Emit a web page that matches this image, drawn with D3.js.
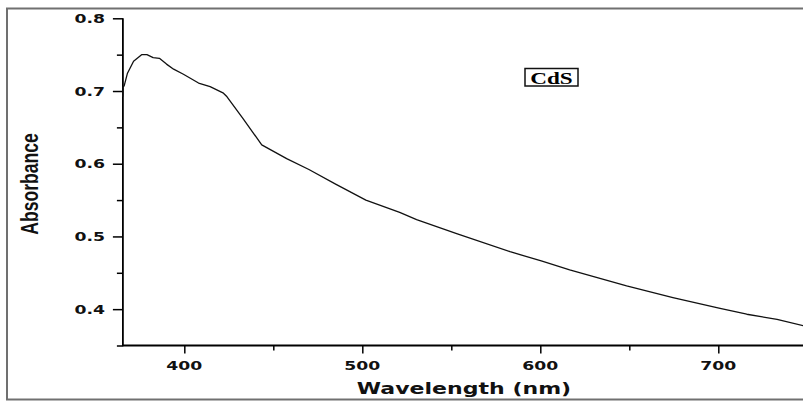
<!DOCTYPE html>
<html>
<head>
<meta charset="utf-8">
<script src="https://cdn.jsdelivr.net/npm/d3@7"></script>
<style>
  html, body { margin: 0; padding: 0; background: #fff; }
  svg { display: block; }
</style>
</head>
<body>
<script>
// Data
const wavelength = [365.4, 365.6, 366.2, 368, 371.5, 376, 379, 382.5, 386, 390, 394, 399.5, 408, 414.5, 422, 424, 433, 443.5, 457.5, 470, 485, 502, 521, 530.5, 553, 583, 601, 616.5, 648.5, 674.5, 701, 716, 733, 748, 750];
const absorbance = [0.692, 0.706, 0.707, 0.724, 0.741, 0.750, 0.750, 0.746, 0.745, 0.737, 0.730, 0.723, 0.711, 0.706, 0.697, 0.692, 0.662, 0.626, 0.607, 0.592, 0.572, 0.550, 0.533, 0.523, 0.504, 0.479, 0.466, 0.454, 0.432, 0.416, 0.401, 0.393, 0.386, 0.377, 0.376];
const xMajorTicks = [400, 500, 600, 700];
const xMinorTicks = [450, 550, 650];
const yMajorTicks = [0.4, 0.5, 0.6, 0.7, 0.8];
const yMinorTicks = [0.35, 0.45, 0.55, 0.65, 0.75];
const xTitle = "Wavelength (nm)";
const yTitle = "Absorbance";
const legendLabel = "CdS";

const W = 803, H = 401;
const svg = d3.select("body").append("svg").attr("width", W).attr("height", H);

const x = d3.scaleLinear().domain([365.5, 750]).range([122.9, 807.3]);
const y = d3.scaleLinear().domain([0.35, 0.8]).range([345.5, 18.3]);
const x0 = x.range()[0], y0 = y.range()[0];

// outer frame
svg.append("rect").attr("x", 7).attr("y", 8.5).attr("width", 820).attr("height", 391)
  .attr("fill", "none").attr("stroke", "#707070").attr("stroke-width", 2);

const SX = 1.38; // horizontal stretch of the reference's text

// Y axis
const yAxisG = svg.append("g").attr("transform", `translate(${x0},0)`);
yAxisG.call(d3.axisLeft(y).tickValues(yMajorTicks).tickSize(10).tickFormat(""));
yAxisG.append("g").call(d3.axisLeft(y).tickValues(yMinorTicks).tickSize(6).tickFormat(""));
yAxisG.selectAll(".domain").remove();
yAxisG.selectAll("line").attr("stroke", "#000").attr("stroke-width", 1.5);
svg.append("line").attr("x1", x0).attr("x2", x0).attr("y1", y(0.8)).attr("y2", y0 + 0.75)
  .attr("stroke", "#000").attr("stroke-width", 1.8);

yMajorTicks.forEach(v => {
  svg.append("g").attr("transform", `translate(105,${y(v) + 4.5}) scale(${SX},1)`)
    .append("text").attr("text-anchor", "end")
    .attr("font-family", "DejaVu Sans").attr("font-weight", "bold").attr("font-size", 12.5)
    .attr("fill", "#111").text(d3.format(".1f")(v));
});

// X axis
const xAxisG = svg.append("g").attr("transform", `translate(0,${y0})`);
xAxisG.call(d3.axisBottom(x).tickValues(xMajorTicks).tickSize(8).tickFormat(""));
xAxisG.append("g").call(d3.axisBottom(x).tickValues(xMinorTicks).tickSize(5).tickFormat(""));
xAxisG.selectAll(".domain").remove();
xAxisG.selectAll("line").attr("stroke", "#000").attr("stroke-width", 1.5);
svg.append("line").attr("x1", x0).attr("x2", W + 10).attr("y1", y0).attr("y2", y0)
  .attr("stroke", "#000").attr("stroke-width", 1.8);

xMajorTicks.forEach(v => {
  svg.append("g").attr("transform", `translate(${x(v)},369.5) scale(${SX},1)`)
    .append("text").attr("text-anchor", "middle")
    .attr("font-family", "DejaVu Sans").attr("font-weight", "bold").attr("font-size", 12.5)
    .attr("fill", "#111").text(v);
});

// Axis titles
svg.append("g").attr("transform", `translate(464,393.5) scale(1.47,1)`)
  .append("text").attr("text-anchor", "middle")
  .attr("font-family", "DejaVu Sans").attr("font-weight", "bold").attr("font-size", 15)
  .attr("fill", "#111").text(xTitle);

svg.append("g").attr("transform", `translate(38,184) scale(1.35,1) rotate(-90)`)
  .append("text").attr("text-anchor", "middle")
  .attr("font-family", "Liberation Sans").attr("font-weight", "bold").attr("font-size", 17.6)
  .attr("fill", "#111").text(yTitle);

// Curve
const line = d3.line().x((d, i) => x(wavelength[i])).y((d, i) => y(absorbance[i]));
svg.append("path").datum(absorbance).attr("d", line)
  .attr("fill", "none").attr("stroke", "#111").attr("stroke-width", 1.3)
  .attr("stroke-linejoin", "round");

// Legend box
svg.append("rect").attr("x", 525).attr("y", 68.5).attr("width", 53).attr("height", 17.5)
  .attr("fill", "#fff").attr("stroke", "#111").attr("stroke-width", 1.5);
svg.append("g").attr("transform", `translate(551.5,83.5) scale(1.45,1)`)
  .append("text").attr("text-anchor", "middle")
  .attr("font-family", "Liberation Serif").attr("font-weight", "bold").attr("font-size", 16)
  .attr("fill", "#000").text(legendLabel);
</script>
</body>
</html>
